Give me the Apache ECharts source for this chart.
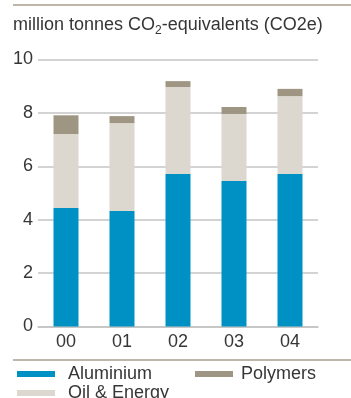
<!DOCTYPE html>
<html>
<head>
<meta charset="utf-8">
<script src="https://cdn.jsdelivr.net/npm/echarts@6/dist/echarts.min.js"></script>
<style>
  html, body { margin: 0; padding: 0; background: #fff; }
  #chart { width: 351px; height: 398px; }
</style>
</head>
<body>
<div id="chart"></div>
<script>
// Greenhouse gas emissions by business area, million tonnes CO2e
const years = ['00', '01', '02', '03', '04'];
const aluminium = [4.44, 4.33, 5.71, 5.45, 5.71];
const oilEnergy = [2.77, 3.29, 3.26, 2.51, 2.92];
const polymers = [0.70, 0.26, 0.22, 0.26, 0.27];
const yTicks = [0, 2, 4, 6, 8, 10];

const FONT = '"Liberation Sans", Arial, sans-serif';
const TEXT = '#363636';
const RULE = '#a89f8c';

const chart = echarts.init(document.getElementById('chart'), null, { renderer: 'canvas' });

function bar(name, data, color) {
  return {
    name: name,
    type: 'bar',
    stack: 'total',
    data: data,
    barWidth: 25,
    itemStyle: { color: color },
    emphasis: { disabled: true }
  };
}

// one legend block per entry so each can sit at its own spot
function legendItem(name, left, top, textGap) {
  return {
    left: left,
    top: top,
    padding: 0,
    itemWidth: 38,
    itemHeight: 6,
    icon: 'rect',
    selectedMode: false,
    data: [name],
    textStyle: { color: TEXT, fontSize: 18, fontFamily: FONT, padding: [0, 0, 0, textGap] }
  };
}

chart.setOption({
  animation: false,
  textStyle: { fontFamily: FONT },
  grid: { left: 38, right: 33, top: 59.5, bottom: 71.5, containLabel: false },
  xAxis: {
    type: 'category',
    data: years,
    axisLine: { show: true, lineStyle: { color: '#c4c4c4', width: 1.5 } },
    axisTick: { show: false },
    axisLabel: { color: TEXT, fontSize: 18, fontFamily: FONT, margin: 7 }
  },
  yAxis: {
    type: 'value',
    min: yTicks[0],
    max: yTicks[yTicks.length - 1],
    interval: yTicks[1] - yTicks[0],
    axisLine: { show: false },
    axisTick: { show: false },
    splitLine: { lineStyle: { color: '#c4c4c4', width: 1.5 } },
    axisLabel: { color: TEXT, fontSize: 18, fontFamily: FONT, margin: 5 }
  },
  legend: [
    legendItem('Aluminium', 17, 365, 8),
    legendItem('Polymers', 195, 365, 3),
    legendItem('Oil & Energy', 17, 384, 8)
  ],
  graphic: [
    {
      type: 'line',
      shape: { x1: 13, y1: 5, x2: 351, y2: 5 },
      style: { stroke: RULE, lineWidth: 1.5 }
    },
    {
      type: 'line',
      shape: { x1: 13, y1: 360, x2: 351, y2: 360 },
      style: { stroke: RULE, lineWidth: 1.5 }
    },
    {
      type: 'text',
      left: 13,
      top: 13,
      style: {
        text: 'million tonnes CO{sub|2}-equivalents (CO2e)',
        font: '18px ' + FONT,
        fill: TEXT,
        rich: {
          sub: { fontSize: 12, fontFamily: FONT, fill: TEXT, lineHeight: 12, verticalAlign: 'bottom' }
        },
        lineHeight: 24,
        verticalAlign: 'top'
      }
    }
  ],
  series: [
    bar('Aluminium', aluminium, '#0091c4'),
    bar('Oil & Energy', oilEnergy, '#dcd8d0'),
    bar('Polymers', polymers, '#9e9683')
  ]
});
</script>
</body>
</html>
